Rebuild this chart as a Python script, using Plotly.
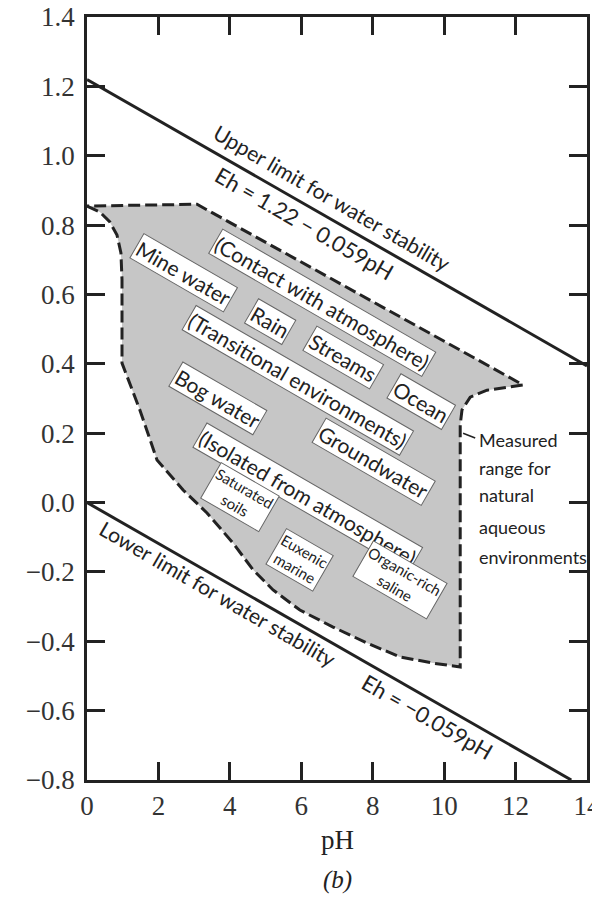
import plotly.graph_objects as go

# Water-stability limits (Eh in volts versus pH)
upper_ph = [0.0, 14.0]
upper_eh = [1.22, 0.394]          # Eh = 1.22 - 0.059 pH
lower_ph = [0.0, 13.56]
lower_eh = [0.0, -0.80]           # Eh = -0.059 pH

# Outline of the measured range for natural aqueous environments
range_ph = [0.00, 0.36, 0.64, 0.84, 0.95, 0.98, 0.98, 1.48, 1.96, 2.69, 3.36,
            4.09, 4.65, 5.21, 5.96, 6.89, 7.84, 8.76, 9.69, 10.45, 10.45, 10.50,
            10.73, 11.20, 12.21, 3.08, 0.00]
range_eh = [0.855, 0.838, 0.809, 0.771, 0.720, 0.642, 0.402, 0.267, 0.123, 0.036,
            -0.030, -0.117, -0.194, -0.252, -0.310, -0.359, -0.405, -0.445, -0.463,
            -0.474, 0.224, 0.267, 0.304, 0.324, 0.339, 0.860, 0.855]

# Environment labels: text, pH, Eh
env_text = ["(Contact with atmosphere)", "Mine water", "Rain", "Streams", "Ocean",
            "(Transitional environments)", "Bog water", "Groundwater",
            "(Isolated from atmosphere)"]
env_ph = [6.58, 2.69, 5.12, 7.17, 9.35, 5.91, 3.67, 8.01, 6.19]
env_eh = [0.578, 0.662, 0.521, 0.417, 0.290, 0.353, 0.301, 0.117, 0.016]

small_text = ["Saturated<br>soils", "Euxenic<br>marine", "Organic-rich<br>saline"]
small_ph = [4.28, 5.96, 8.77]
small_eh = [0.016, -0.166, -0.223]

note_lines = ["Measured", "range for", "natural", "aqueous", "environments"]
note_eh = [0.180, 0.100, 0.022, -0.071, -0.157]

x_ticks = [0, 2, 4, 6, 8, 10, 12, 14]
y_ticks = [-0.8, -0.6, -0.4, -0.2, 0.0, 0.2, 0.4, 0.6, 0.8, 1.0, 1.2, 1.4]

INK = "#222222"
LABEL_FONT = "Lato, 'Open Sans', sans-serif"
SERIF = "'Liberation Serif', 'DejaVu Serif', serif"

fig = go.Figure()

fig.add_trace(go.Scatter(
    x=range_ph, y=range_eh, mode="lines", fill="toself",
    fillcolor="#c6c6c6",
    line=dict(color=INK, width=3, dash="12px,5px"),
    hoverinfo="skip", showlegend=False))

for xs, ys in ((upper_ph, upper_eh), (lower_ph, lower_eh)):
    fig.add_trace(go.Scatter(
        x=xs, y=ys, mode="lines", line=dict(color=INK, width=3),
        hoverinfo="skip", showlegend=False))

ann = []
for t, x, y in zip(env_text, env_ph, env_eh):
    ann.append(dict(x=x, y=y, text=t, textangle=30, showarrow=False,
                    font=dict(family=LABEL_FONT, size=21, color=INK),
                    bgcolor="white", bordercolor="#666666", borderwidth=1,
                    borderpad=1))
for t, x, y in zip(small_text, small_ph, small_eh):
    ann.append(dict(x=x, y=y, text=t, textangle=30, showarrow=False,
                    font=dict(family=LABEL_FONT, size=15, color=INK),
                    bgcolor="white", bordercolor="#666666", borderwidth=1,
                    borderpad=1))

line_labels = [
    ("Upper limit for water stability", 6.86, 0.881, 21),
    ("Eh = 1.22 \u2212 0.059pH", 6.10, 0.806, 22),
    ("Lower limit for water stability", 3.67, -0.261, 21),
    ("Eh = \u22120.059pH", 9.52, -0.618, 22),
]
for t, x, y, s in line_labels:
    ann.append(dict(x=x, y=y, text=t, textangle=30, showarrow=False,
                    font=dict(family=LABEL_FONT, size=s, color=INK)))

for t, y in zip(note_lines, note_eh):
    ann.append(dict(x=10.92, y=y, text=t, showarrow=False, xanchor="left",
                    yanchor="middle",
                    font=dict(family=LABEL_FONT, size=18, color=INK)))

ann.append(dict(x=0.5, y=-0.079, xref="paper", yref="paper", text="pH",
                showarrow=False, yanchor="middle",
                font=dict(family=SERIF, size=27, color=INK)))
ann.append(dict(x=0.5, y=-0.131, xref="paper", yref="paper", text="<i>(b)</i>",
                showarrow=False, yanchor="middle",
                font=dict(family=SERIF, size=25, color=INK)))

fig.add_shape(type="line", x0=10.53, y0=0.200, x1=10.87, y1=0.186,
              line=dict(color=INK, width=1.5))

axis_common = dict(showline=True, linecolor=INK, linewidth=2.5, mirror="allticks",
                   ticks="inside", ticklen=18, tickwidth=2.5, tickcolor=INK,
                   showgrid=False, zeroline=False, automargin=False,
                   ticklabeloverflow="allow",
                   tickfont=dict(family=SERIF, size=27, color="#333333"))

fig.update_xaxes(range=[0, 14], tickvals=x_ticks,
                 ticktext=[str(v) for v in x_ticks], **axis_common)
fig.update_yaxes(range=[-0.8, 1.4], tickvals=y_ticks, tickformat=".1f",
                 ticklabelstandoff=4, **axis_common)

fig.update_layout(width=592, height=898,
                  margin=dict(l=87, r=5, t=17, b=118, autoexpand=False),
                  paper_bgcolor="white", plot_bgcolor="white",
                  annotations=ann, showlegend=False)

fig.write_html("out.html")
